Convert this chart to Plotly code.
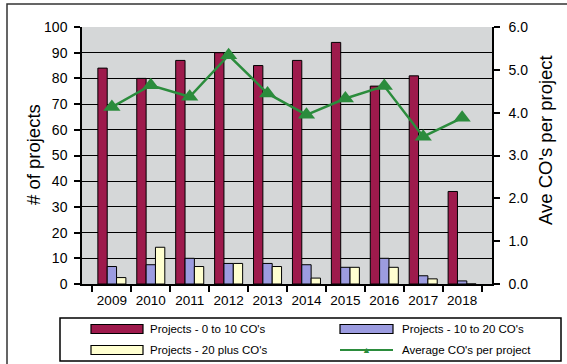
import plotly.graph_objects as go

# Data
years = ["2009", "2010", "2011", "2012", "2013", "2014", "2015", "2016", "2017", "2018"]
proj_0_10 = [84, 80, 87, 90, 85, 87, 94, 77, 81, 36]
proj_10_20 = [6.8, 7.5, 10, 8, 8, 7.5, 6.5, 10, 3.2, 1.2]
proj_20_plus = [2.5, 14.3, 6.8, 8, 6.8, 2.3, 6.5, 6.5, 2, 0]
avg_cos = [4.13, 4.64, 4.37, 5.34, 4.45, 3.95, 4.33, 4.62, 3.44, 3.88]

MAROON = "#9e1a4c"
BLUE = "#9c9ce0"
CREAM = "#ffffd0"
GREEN = "#2b8c3c"
FONT = "Liberation Sans, Arial, sans-serif"

W, H = 567, 364
L, R, T, B = 82, 75, 27, 80
PW, PH = W - L - R, H - T - B


def px(x):
    return (x - L) / PW


def py(y):
    return (H - B - y) / PH


fig = go.Figure()
bar_line = dict(color="black", width=1)
fig.add_trace(go.Bar(x=years, y=proj_0_10, marker=dict(color=MAROON, line=bar_line),
                     name="Projects - 0 to 10 CO's"))
fig.add_trace(go.Bar(x=years, y=proj_10_20, marker=dict(color=BLUE, line=bar_line),
                     name="Projects - 10 to 20 CO's"))
fig.add_trace(go.Bar(x=years, y=proj_20_plus, marker=dict(color=CREAM, line=bar_line),
                     name="Projects - 20 plus CO's"))
fig.add_trace(go.Scatter(x=years, y=avg_cos, yaxis="y2", mode="lines+markers",
                         line=dict(color=GREEN, width=2.5),
                         marker=dict(symbol="triangle-up", size=15, color=GREEN),
                         name="Average CO's per project"))

fig.update_layout(
    width=W, height=H,
    margin=dict(l=L, r=R, t=T, b=B),
    paper_bgcolor="white",
    plot_bgcolor="#d5d7d8",
    barmode="group",
    bargap=0.28,
    bargroupgap=0,
    showlegend=False,
    font=dict(family=FONT, size=13, color="black"),
    xaxis=dict(
        type="category", showgrid=False, showline=True, linecolor="black", linewidth=1.5,
        ticks="outside", tickson="boundaries", ticklen=6, tickcolor="black", tickwidth=1.5,
        ticklabelstandoff=3, tickangle=0, tickfont=dict(size=13.5), mirror=False,
    ),
    yaxis=dict(
        range=[0, 100], dtick=10, showgrid=True, gridcolor="black", gridwidth=1,
        showline=True, linecolor="black", linewidth=1.5,
        ticks="outside", ticklen=6, tickcolor="black", tickwidth=1.5,
        ticklabelstandoff=4, tickfont=dict(size=14), zeroline=False,
    ),
    yaxis2=dict(
        range=[0, 6], dtick=1, tickformat=".1f", overlaying="y", side="right",
        showgrid=False, showline=True, linecolor="black", linewidth=1.5,
        ticks="outside", ticklen=6, tickcolor="black", tickwidth=1.5,
        ticklabelstandoff=6, tickfont=dict(size=14), zeroline=False,
    ),
)

shapes = []
annotations = []

# Outer frame
shapes.append(dict(type="rect", xref="paper", yref="paper",
                   x0=px(7), x1=px(572), y0=py(4), y1=py(370),
                   line=dict(color="#333", width=1.5), layer="below"))

# Axis titles
annotations.append(dict(text="# of projects", xref="paper", yref="paper",
                        x=px(33), y=py(155), textangle=-90, showarrow=False,
                        font=dict(size=18.5), xanchor="center", yanchor="middle"))
annotations.append(dict(text="Ave CO's per project", xref="paper", yref="paper",
                        x=px(545), y=py(140), textangle=-90, showarrow=False,
                        font=dict(size=18.5), xanchor="center", yanchor="middle"))

# Legend box
shapes.append(dict(type="rect", xref="paper", yref="paper",
                   x0=px(60), x1=px(561), y0=py(318), y1=py(361),
                   line=dict(color="black", width=1.5), fillcolor="white"))

legend_items = [
    ("bar", MAROON, "Projects - 0 to 10 CO's", 91, 143, 148, 329),
    ("bar", BLUE, "Projects - 10 to 20 CO's", 340, 393, 400, 329),
    ("bar", CREAM, "Projects - 20 plus CO's", 91, 143, 148, 350),
    ("line", GREEN, "Average CO's per project", 340, 393, 400, 350),
]
for kind, color, label, sx0, sx1, tx, cy in legend_items:
    if kind == "bar":
        shapes.append(dict(type="rect", xref="paper", yref="paper",
                           x0=px(sx0), x1=px(sx1), y0=py(cy - 4.5), y1=py(cy + 4.5),
                           fillcolor=color, line=dict(color="black", width=1.2)))
    else:
        shapes.append(dict(type="line", xref="paper", yref="paper",
                           x0=px(sx0), x1=px(sx1), y0=py(cy), y1=py(cy),
                           line=dict(color=color, width=2)))
        annotations.append(dict(text="▲", xref="paper", yref="paper",
                                x=px((sx0 + sx1) / 2), y=py(cy), showarrow=False,
                                font=dict(size=9, color=color),
                                xanchor="center", yanchor="middle"))
    annotations.append(dict(text=label, xref="paper", yref="paper",
                            x=px(tx), y=py(cy), showarrow=False,
                            font=dict(size=11.5), xanchor="left", yanchor="middle"))

fig.update_layout(shapes=shapes, annotations=annotations)
fig.write_html("out.html")
